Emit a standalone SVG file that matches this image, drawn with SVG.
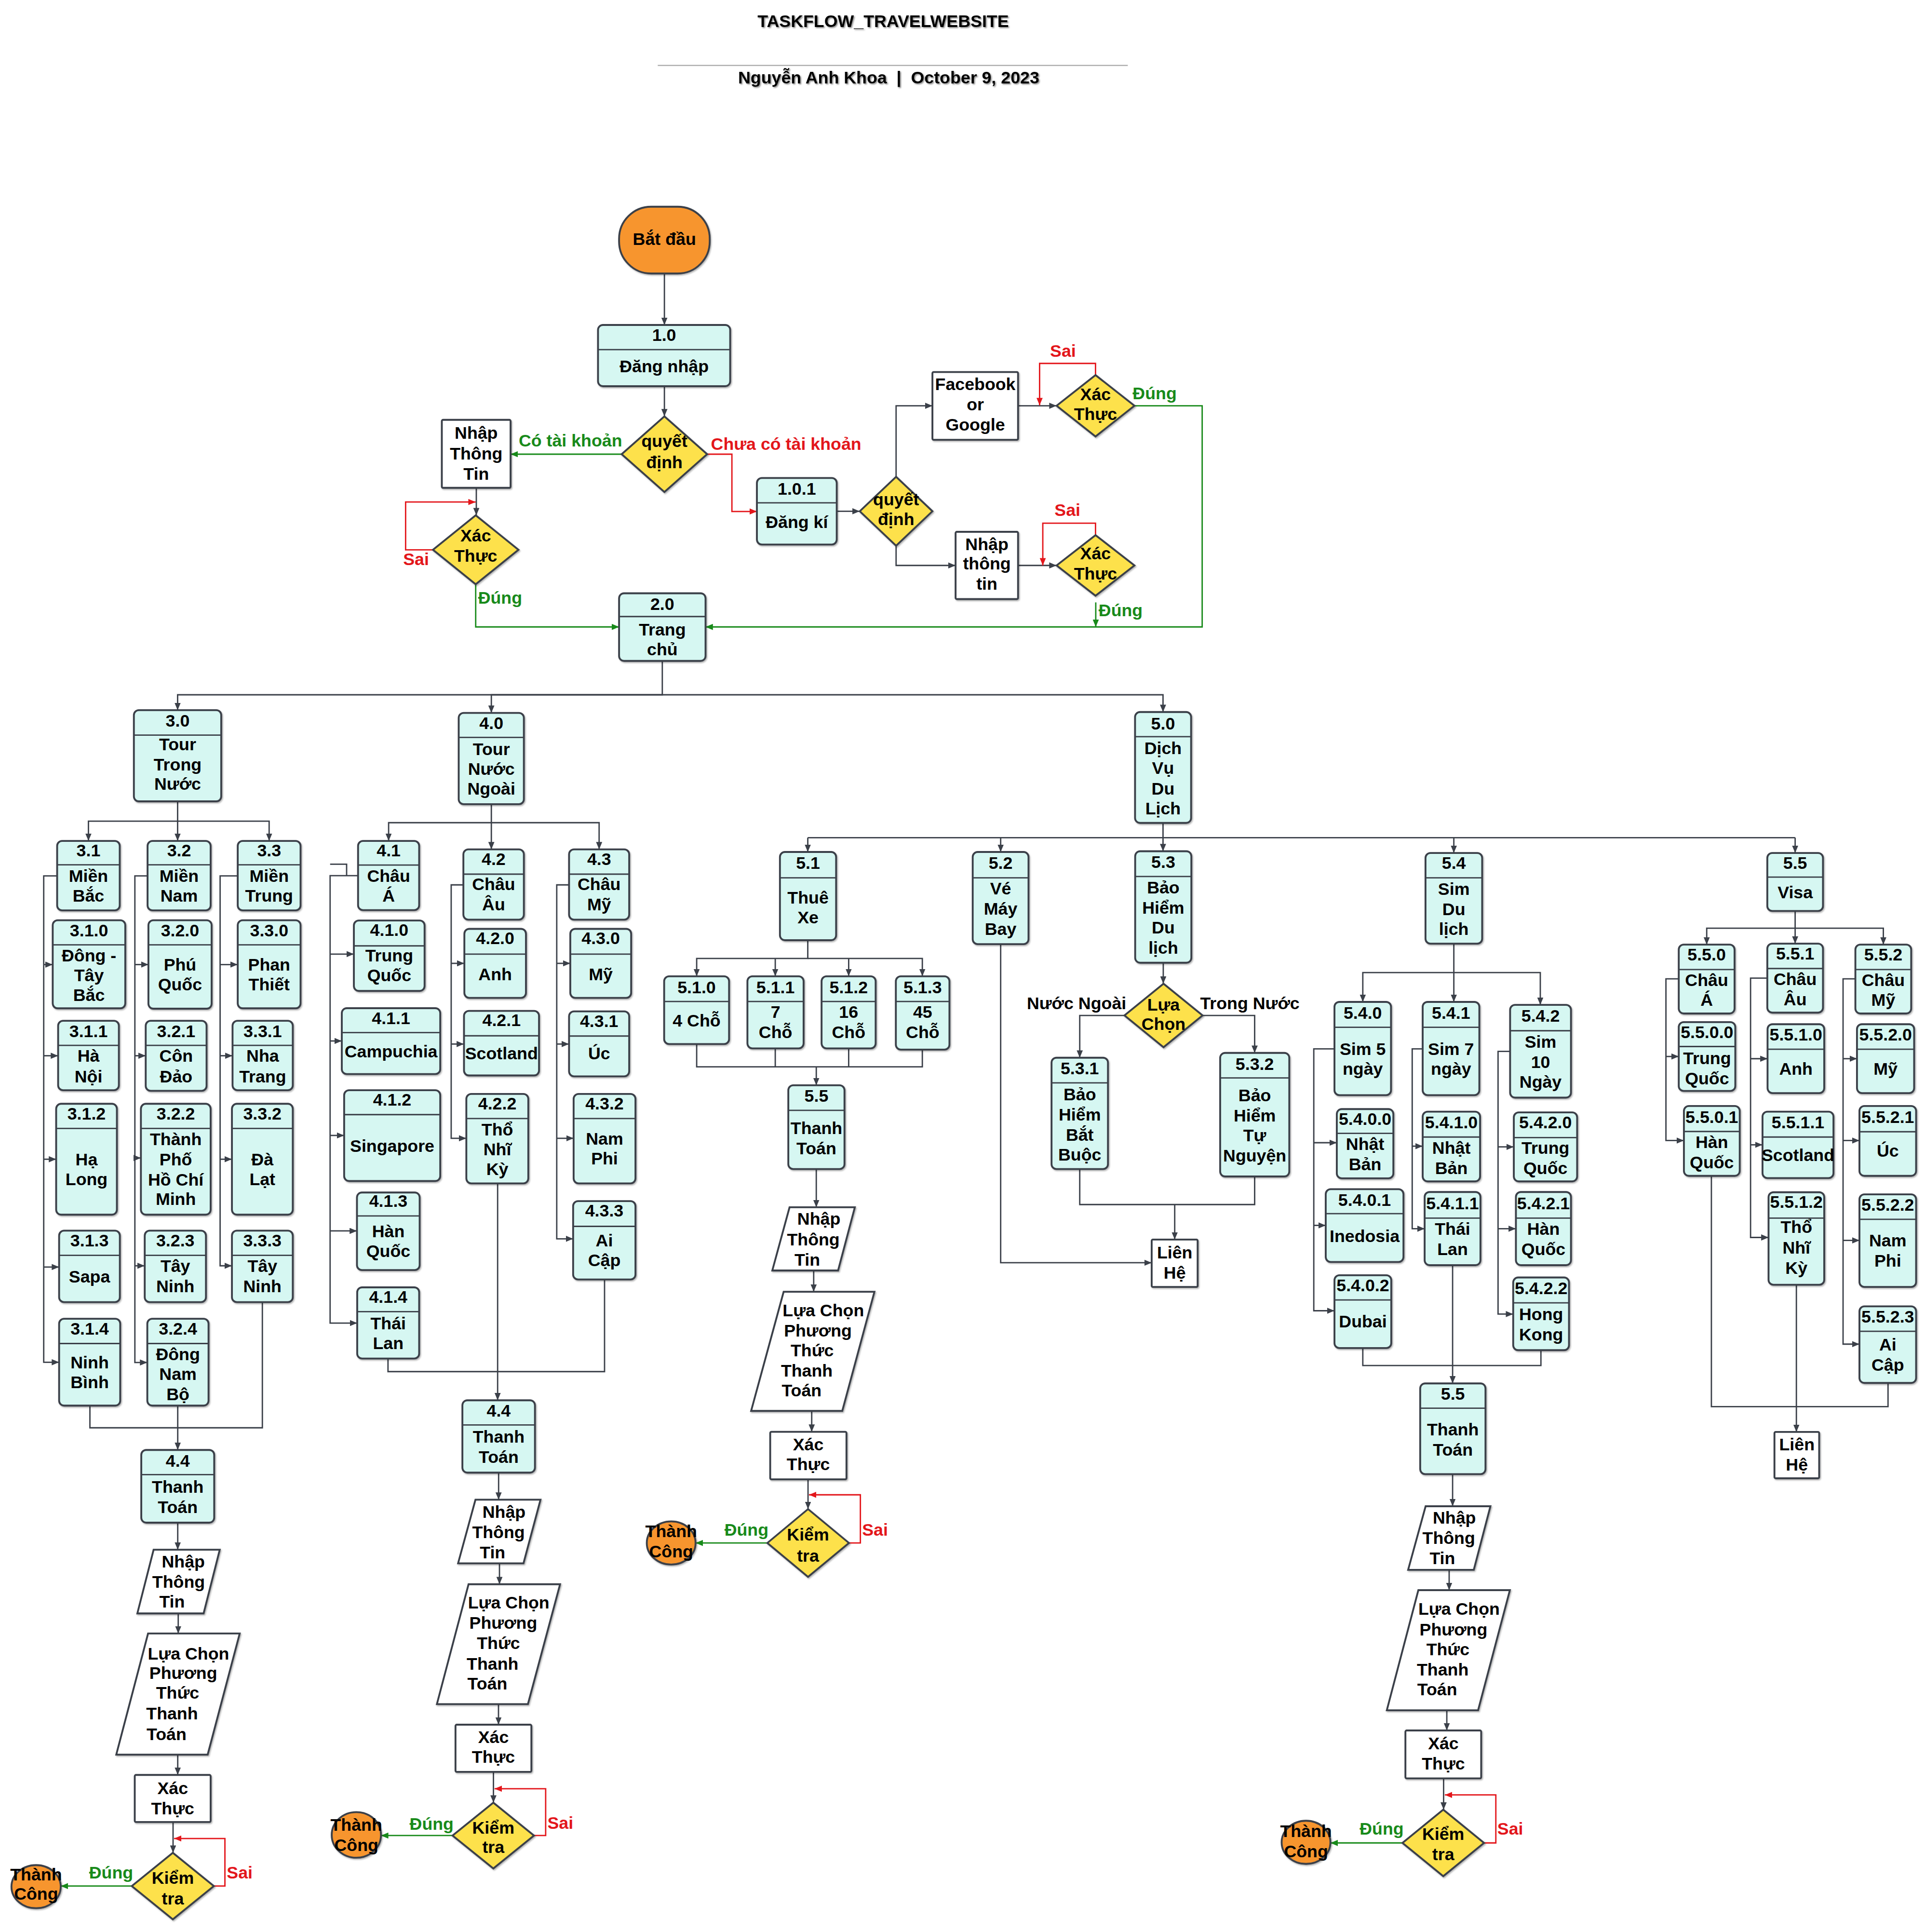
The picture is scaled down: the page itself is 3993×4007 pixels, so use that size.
<svg xmlns="http://www.w3.org/2000/svg" width="3993" height="4007" viewBox="0 0 3993 4007">
<defs>
<style>
text{font-family:"Liberation Sans",Arial,sans-serif;font-weight:bold;font-size:14px;fill:#000;text-anchor:middle}
.p{fill:#d6f7f2;stroke:#3b4049;stroke-width:1.5;filter:url(#sh)}
.w{fill:#fff;stroke:#3b4049;stroke-width:1.5;filter:url(#sh)}
.d{fill:#fde14b;stroke:#3b4049;stroke-width:1.5;filter:url(#sh)}
.o{fill:#f7952f;stroke:#3b4049;stroke-width:1.5;filter:url(#sh)}
.dv{fill:none;stroke:#3b4049;stroke-width:1.1}
.c{fill:none;stroke:#3b4049;stroke-width:1.1}
.ca{fill:none;stroke:#3b4049;stroke-width:1.1;marker-end:url(#a)}
.cr{fill:none;stroke:#e3161b;stroke-width:1.1;marker-end:url(#ar)}
.cg{fill:none;stroke:#188a1a;stroke-width:1.1;marker-end:url(#ag)}
.tr{fill:#e3161b}
.tg{fill:#188a1a}
.tt{filter:url(#ts)}
</style>
<filter id="sh" x="-20%" y="-20%" width="140%" height="140%"><feDropShadow dx="0.7" dy="0.9" stdDeviation="0.6" flood-color="#000" flood-opacity="0.3"/></filter>
<filter id="ts" x="-10%" y="-50%" width="120%" height="200%"><feDropShadow dx="0.8" dy="0.8" stdDeviation="0.7" flood-color="#555" flood-opacity="0.7"/></filter>
<marker id="a" viewBox="0 0 12 10" refX="12" refY="5" markerWidth="6" markerHeight="5" orient="auto" markerUnits="userSpaceOnUse"><path d="M0,0 L12,5 L0,10 z" fill="#3b4049"/></marker>
<marker id="ar" viewBox="0 0 12 10" refX="12" refY="5" markerWidth="6" markerHeight="5" orient="auto" markerUnits="userSpaceOnUse"><path d="M0,0 L12,5 L0,10 z" fill="#e3161b"/></marker>
<marker id="ag" viewBox="0 0 12 10" refX="12" refY="5" markerWidth="6" markerHeight="5" orient="auto" markerUnits="userSpaceOnUse"><path d="M0,0 L12,5 L0,10 z" fill="#188a1a"/></marker>
</defs>
<rect width="3993" height="4007" fill="#fff"/>
<g transform="scale(2.555)">
<g id="header">
<text class="tt" x="717" y="21.8">TASKFLOW_TRAVELWEBSITE</text>
<path d="M534,53.1 H915.6" stroke="#b0b0b0" stroke-width="1"/>
<text class="tt" x="721.5" y="67.9" xml:space="preserve">Nguyễn Anh Khoa  |  October 9, 2023</text>
</g>
<g id="connectors">
<path class="ca" d="M539.4,222 V263.8"/>
<path class="ca" d="M539.4,313.5 V338"/>
<path class="cg" d="M504.7,368.7 H414.5"/>
<path class="cr" d="M574.1,368.7 H594.2 V415.2 H614.5"/>
<path class="ca" d="M386.7,396 V418.3"/>
<path class="cr" d="M351.5,446.3 H329.3 V407.5 H386.2"/>
<path class="cg" d="M386.2,474.3 V508.9 H502.6"/>
<path class="ca" d="M679.3,415 H698"/>
<path class="ca" d="M727.5,387 V329.4 H757"/>
<path class="ca" d="M727.5,443 V459 H775.8"/>
<path class="ca" d="M826.5,329.4 H857.8"/>
<path class="cr" d="M889.4,304.5 V295 H844 V329"/>
<path class="cg" d="M921,329.4 H976 V508.9 H572.8"/>
<path class="ca" d="M826.5,459 H857.8"/>
<path class="cr" d="M889.4,434.4 V424.7 H846.6 V459"/>
<path class="cg" d="M889.6,489 V508.9"/>
<path class="ca" d="M537.7,536.5 V564 H144.2 V576.5"/>
<path class="ca" d="M537.7,564 H398.9 V578.7"/>
<path class="ca" d="M537.7,564 H944.2 V578"/>
<path class="ca" d="M144.2,650.5 V666.6 H71.8 V682.6"/>
<path class="ca" d="M144.2,666.6 V682.6"/>
<path class="ca" d="M144.2,666.6 H218.5 V682.6"/>
<path class="ca" d="M46.4,711 H35.5 V1105.8 H48"/>
<path class="ca" d="M35.5,783 H42.8"/>
<path class="ca" d="M35.5,857 H47.2"/>
<path class="ca" d="M35.5,941 H45.6"/>
<path class="ca" d="M35.5,1028.5 H48"/>
<path class="ca" d="M119.8,711 H109.5 V1106 H119.6"/>
<path class="ca" d="M109.5,783 H120.5"/>
<path class="ca" d="M109.5,857 H118.3"/>
<path class="ca" d="M109.5,940 H114.4"/>
<path class="ca" d="M109.5,1027.5 H117.5"/>
<path class="ca" d="M193,711 H178.7 V1027.5 H188.3"/>
<path class="ca" d="M178.7,783 H193"/>
<path class="ca" d="M178.7,857 H188.8"/>
<path class="ca" d="M178.7,941 H188.3"/>
<path class="c" d="M73,1141 V1159 H213 V1057"/>
<path class="ca" d="M144.3,1141 V1177"/>
<path class="ca" d="M144.3,1236 V1258"/>
<path class="ca" d="M144.7,1309.7 V1326"/>
<path class="ca" d="M144.3,1424.3 V1440.8"/>
<path class="ca" d="M140.5,1479 V1504"/>
<path class="cr" d="M173.6,1531 H182.6 V1492.4 H141.3"/>
<path class="cg" d="M107,1531 H49.3"/>
<path class="ca" d="M398.9,652.8 V667.8 H315.5 V682.6"/>
<path class="ca" d="M398.9,667.8 V689.5"/>
<path class="ca" d="M398.9,667.8 H486.4 V689.5"/>
<path class="ca" d="M290.7,710.8 H268 V1074 H290"/>
<path class="c" d="M268,701.5 H281.4 V710.8"/>
<path class="ca" d="M268,774.5 H287.3"/>
<path class="ca" d="M268,845 H277.5"/>
<path class="ca" d="M268,921.7 H279.4"/>
<path class="ca" d="M268,999.2 H289.8"/>
<path class="ca" d="M376.2,718.3 H366.3 V924 H378.6"/>
<path class="ca" d="M366.3,782 H377"/>
<path class="ca" d="M366.3,847.5 H376.7"/>
<path class="ca" d="M462,718.3 H452 V1005.6 H465.3"/>
<path class="ca" d="M452,782 H463"/>
<path class="ca" d="M452,847.5 H462"/>
<path class="ca" d="M452,924 H465.7"/>
<path class="c" d="M315,1102.8 V1113.4 H490.8 V1038.6"/>
<path class="ca" d="M404,960.6 V1136.7"/>
<path class="ca" d="M404.8,1195.4 V1217.4"/>
<path class="ca" d="M405.5,1269 V1286"/>
<path class="ca" d="M404.7,1383.3 V1400"/>
<path class="ca" d="M400.6,1438.3 V1463.3"/>
<path class="cr" d="M433.5,1490 H443 V1452 H401.5"/>
<path class="cg" d="M367.4,1490 H309.3"/>
<path class="c" d="M944.2,668 V680 M655.8,680 H1457.4"/>
<path class="ca" d="M655.8,680 V691.6"/>
<path class="ca" d="M812.4,680 V691.6"/>
<path class="ca" d="M944.2,680 V691"/>
<path class="ca" d="M1180.3,680 V692.4"/>
<path class="ca" d="M1457.4,680 V692.4"/>
<path class="ca" d="M655.8,763.2 V778 H565.6 V792.5"/>
<path class="ca" d="M629.4,778 V792.5"/>
<path class="ca" d="M689,778 V792.5"/>
<path class="ca" d="M655.8,778 H748.8 V792.5"/>
<path class="c" d="M565.6,847.5 V866 H748.8 V852 M629.4,851 V866 M689,851 V866"/>
<path class="ca" d="M662.7,866 V881"/>
<path class="ca" d="M662.7,949 V980"/>
<path class="ca" d="M660.6,1031.3 V1048.6"/>
<path class="ca" d="M659,1145.3 V1162.3"/>
<path class="ca" d="M656,1200.8 V1225"/>
<path class="cr" d="M689.2,1252.5 H698.5 V1213.4 H656.8"/>
<path class="cg" d="M623,1252.5 H564.7"/>
<path class="ca" d="M812.4,766.4 V1025 H935"/>
<path class="ca" d="M944.4,781.5 V798.5"/>
<path class="ca" d="M912.9,824.3 H876.6 V858.6"/>
<path class="ca" d="M976.3,824.3 H1018.6 V854.7"/>
<path class="c" d="M876.6,949 V977.8 H1018.6 V955"/>
<path class="ca" d="M953.7,977.8 V1006.2"/>
<path class="ca" d="M1180.3,766 V789.5 H1106.4 V813.3"/>
<path class="ca" d="M1180.3,789.5 V813.3"/>
<path class="ca" d="M1180.3,789.5 H1250.5 V815.7"/>
<path class="ca" d="M1083.4,851.4 H1066.6 V1064 H1083.4"/>
<path class="ca" d="M1066.6,927.6 H1085.3"/>
<path class="ca" d="M1066.6,994.7 H1076.3"/>
<path class="ca" d="M1155,851.4 H1146.5 V997.4 H1156.6"/>
<path class="ca" d="M1146.5,930.4 H1155"/>
<path class="ca" d="M1226,853.5 H1216.2 V1066.7 H1228.5"/>
<path class="ca" d="M1216.2,931 H1229"/>
<path class="ca" d="M1216.2,997.4 H1230.7"/>
<path class="c" d="M1106.4,1094.3 V1108.5 H1251 V1096"/>
<path class="ca" d="M1179.3,1027 V1123"/>
<path class="ca" d="M1179.3,1196.6 V1222.7"/>
<path class="ca" d="M1176.5,1274.3 V1290.8"/>
<path class="ca" d="M1174.6,1388.3 V1404.7"/>
<path class="ca" d="M1172,1443.6 V1469"/>
<path class="cr" d="M1204.8,1496 H1214.4 V1457 H1173"/>
<path class="cg" d="M1138.6,1496 H1080.1"/>
<path class="ca" d="M1457.4,739.5 V753.5 H1385.6 V766.8"/>
<path class="ca" d="M1457.4,753.5 V766"/>
<path class="ca" d="M1457.4,753.5 H1529 V766.8"/>
<path class="ca" d="M1362.9,794.6 H1352.5 V925.8 H1367.1"/>
<path class="ca" d="M1352.5,857.6 H1362.9"/>
<path class="ca" d="M1434.8,794 H1421.2 V1004.5 H1435.8"/>
<path class="ca" d="M1421.2,859.4 H1435"/>
<path class="ca" d="M1421.2,929.3 H1430.9"/>
<path class="ca" d="M1506.3,794.6 H1496.3 V1091.1 H1509.6"/>
<path class="ca" d="M1496.3,859.4 H1507.6"/>
<path class="ca" d="M1496.3,925.8 H1509.6"/>
<path class="ca" d="M1496.3,1006.9 H1509.6"/>
<path class="c" d="M1389.4,954.5 V1141.8 H1532.8 V1122.6"/>
<path class="ca" d="M1458.4,1042.9 V1162.4"/>
</g>
<g id="labels">
<text class="tg" x="463.1" y="362.5">Có tài khoản</text>
<text class="tr" x="638.2" y="365">Chưa có tài khoản</text>
<text class="tr" x="863" y="289.5">Sai</text>
<text class="tg" x="937.4" y="324">Đúng</text>
<text class="tr" x="866.6" y="418.7">Sai</text>
<text class="tg" x="909.8" y="500">Đúng</text>
<text class="tr" x="337.8" y="458.6">Sai</text>
<text class="tg" x="406" y="490">Đúng</text>
<text x="874" y="819">Nước Ngoài</text>
<text x="1014.7" y="819">Trong Nước</text>
<text class="tg" x="90.2" y="1525">Đúng</text>
<text class="tr" x="194.6" y="1525">Sai</text>
<text class="tg" x="350.4" y="1485.4">Đúng</text>
<text class="tr" x="454.9" y="1484.4">Sai</text>
<text class="tg" x="606" y="1246.4">Đúng</text>
<text class="tr" x="710.4" y="1246.4">Sai</text>
<text class="tg" x="1121.7" y="1489.2">Đúng</text>
<text class="tr" x="1226.1" y="1489.2">Sai</text>
</g>
<g id="start"><rect class="o" x="502.6" y="167.8" width="73.6" height="54.2" rx="26" ry="26"/><text x="539.4" y="199">Bắt đầu</text></g>
<g id="n1_0"><rect class="p" x="485.5" y="263.8" width="107.3" height="49.7" rx="4"/><path class="dv" d="M485.5,283.8 H592.8"/><text x="539.2" y="276.9">1.0</text><text x="539.2" y="302">Đăng nhập</text></g>
<g id="dec1"><polygon class="d" points="504.7,368.7 539.4,338 574.1,368.7 539.4,399.4"/><text x="539.4" y="363">quyết<tspan x="539.4" y="380">định</tspan></text></g>
<g id="login_input"><rect class="w" x="358.7" y="340.8" width="55.8" height="55.2" rx="1"/><text x="386.6" y="356">Nhập<tspan x="386.6" y="373">Thông</tspan><tspan x="386.6" y="389.5">Tin</tspan></text></g>
<g id="login_check"><polygon class="d" points="351.5,446.3 386.2,418.3 420.9,446.3 386.2,474.3"/><text x="386.2" y="439.4">Xác<tspan x="386.2" y="455.8">Thực</tspan></text></g>
<g id="n1_0_1"><rect class="p" x="614.5" y="388" width="64.8" height="54" rx="4"/><path class="dv" d="M614.5,408.2 H679.3"/><text x="646.9" y="401.7">1.0.1</text><text x="646.9" y="428.6">Đăng kí</text></g>
<g id="dec2"><polygon class="d" points="698,415 727.5,387 757,415 727.5,443"/><text x="727.5" y="410">quyết<tspan x="727.5" y="426.3">định</tspan></text></g>
<g id="fb"><rect class="w" x="757" y="302" width="69.5" height="55" rx="1"/><text x="791.8" y="316.5">Facebook<tspan x="791.8" y="333">or</tspan><tspan x="791.8" y="349.4">Google</tspan></text></g>
<g id="fb_check"><polygon class="d" points="857.8,329.4 889.4,304.5 921,329.4 889.4,354.3"/><text x="889.4" y="324.8">Xác<tspan x="889.4" y="341">Thực</tspan></text></g>
<g id="reg_input"><rect class="w" x="775.8" y="431.7" width="50.7" height="54.6" rx="1"/><text x="801.2" y="446.4">Nhập<tspan x="801.2" y="462.4">thông</tspan><tspan x="801.2" y="478.6">tin</tspan></text></g>
<g id="reg_check"><polygon class="d" points="857.8,459 889.4,434.4 921,459 889.4,483.6"/><text x="889.4" y="454">Xác<tspan x="889.4" y="470.3">Thực</tspan></text></g>
<g id="n2_0"><rect class="p" x="502.6" y="481.6" width="70.2" height="54.9" rx="4"/><path class="dv" d="M502.6,500.5 H572.8"/><text x="537.7" y="495.3">2.0</text><text x="537.7" y="516">Trang<tspan x="537.7" y="532">chủ</tspan></text></g>
<g id="n3_0"><rect class="p" x="108.7" y="576.5" width="70.9" height="74" rx="4"/><path class="dv" d="M108.7,596.7 H179.6"/><text x="144.2" y="590">3.0</text><text x="144.2" y="609">Tour<tspan x="144.2" y="625.6">Trong</tspan><tspan x="144.2" y="641">Nước</tspan></text></g>
<g id="n4_0"><rect class="p" x="372.4" y="578.7" width="52.9" height="74.1" rx="4"/><path class="dv" d="M372.4,598.6 H425.3"/><text x="398.9" y="591.6">4.0</text><text x="398.9" y="613">Tour<tspan x="398.9" y="629">Nước</tspan><tspan x="398.9" y="645">Ngoài</tspan></text></g>
<g id="n5_0"><rect class="p" x="921.5" y="578" width="45.5" height="90" rx="4"/><path class="dv" d="M921.5,598 H967"/><text x="944.2" y="592">5.0</text><text x="944.2" y="612">Dịch<tspan x="944.2" y="628">Vụ</tspan><tspan x="944.2" y="645">Du</tspan><tspan x="944.2" y="661">Lịch</tspan></text></g>
<g id="n3_1"><rect class="p" x="46.4" y="682.6" width="50.8" height="56.4" rx="4"/><path class="dv" d="M46.4,702 H97.2"/><text x="71.8" y="695">3.1</text><text x="71.8" y="716">Miền<tspan x="71.8" y="732">Bắc</tspan></text></g>
<g id="n3_2"><rect class="p" x="119.8" y="682.6" width="51.2" height="56.4" rx="4"/><path class="dv" d="M119.8,702 H171"/><text x="145.4" y="695">3.2</text><text x="145.4" y="716">Miền<tspan x="145.4" y="732">Nam</tspan></text></g>
<g id="n3_3"><rect class="p" x="193" y="682.6" width="51" height="56.4" rx="4"/><path class="dv" d="M193,702 H244"/><text x="218.5" y="695">3.3</text><text x="218.5" y="716">Miền<tspan x="218.5" y="732">Trung</tspan></text></g>
<g id="n3_1_0"><rect class="p" x="42.8" y="747" width="58.9" height="71.5" rx="4"/><path class="dv" d="M42.8,767 H101.7"/><text x="72.25" y="760">3.1.0</text><text x="72.25" y="780.6">Đông -<tspan x="72.25" y="796.6">Tây</tspan><tspan x="72.25" y="812.6">Bắc</tspan></text></g>
<g id="n3_2_0"><rect class="p" x="120.5" y="747" width="51.3" height="71.8" rx="4"/><path class="dv" d="M120.5,767 H171.8"/><text x="146.15" y="760">3.2.0</text><text x="146.15" y="788">Phú<tspan x="146.15" y="804">Quốc</tspan></text></g>
<g id="n3_3_0"><rect class="p" x="193" y="747" width="51" height="71.5" rx="4"/><path class="dv" d="M193,767 H244"/><text x="218.5" y="760">3.3.0</text><text x="218.5" y="788">Phan<tspan x="218.5" y="804">Thiết</tspan></text></g>
<g id="n3_1_1"><rect class="p" x="47.2" y="828.6" width="49.3" height="56.4" rx="4"/><path class="dv" d="M47.2,848.6 H96.5"/><text x="71.85" y="841.8">3.1.1</text><text x="71.85" y="862">Hà<tspan x="71.85" y="878.5">Nội</tspan></text></g>
<g id="n3_2_1"><rect class="p" x="118.3" y="828.6" width="49.4" height="56.9" rx="4"/><path class="dv" d="M118.3,848.6 H167.7"/><text x="143" y="841.8">3.2.1</text><text x="143" y="862">Côn<tspan x="143" y="878.5">Đảo</tspan></text></g>
<g id="n3_3_1"><rect class="p" x="188.8" y="828.6" width="48.9" height="56.4" rx="4"/><path class="dv" d="M188.8,848.6 H237.7"/><text x="213.25" y="841.8">3.3.1</text><text x="213.25" y="862">Nha<tspan x="213.25" y="878.5">Trang</tspan></text></g>
<g id="n3_1_2"><rect class="p" x="45.6" y="896" width="49.3" height="90" rx="4"/><path class="dv" d="M45.6,916 H94.9"/><text x="70.25" y="909">3.1.2</text><text x="70.25" y="946">Hạ<tspan x="70.25" y="962">Long</tspan></text></g>
<g id="n3_2_2"><rect class="p" x="114.4" y="896" width="56.6" height="90" rx="4"/><path class="dv" d="M114.4,916 H171"/><text x="142.7" y="909">3.2.2</text><text x="142.7" y="929.7">Thành<tspan x="142.7" y="946">Phố</tspan><tspan x="142.7" y="962.6">Hồ Chí</tspan><tspan x="142.7" y="978">Minh</tspan></text></g>
<g id="n3_3_2"><rect class="p" x="188.3" y="896" width="49.4" height="90" rx="4"/><path class="dv" d="M188.3,916 H237.7"/><text x="213" y="909">3.3.2</text><text x="213" y="946">Đà<tspan x="213" y="962">Lạt</tspan></text></g>
<g id="n3_1_3"><rect class="p" x="48" y="999" width="49.3" height="58" rx="4"/><path class="dv" d="M48,1019 H97.3"/><text x="72.65" y="1011.7">3.1.3</text><text x="72.65" y="1041">Sapa</text></g>
<g id="n3_2_3"><rect class="p" x="117.5" y="999" width="49.7" height="58" rx="4"/><path class="dv" d="M117.5,1019 H167.2"/><text x="142.35" y="1011.7">3.2.3</text><text x="142.35" y="1032.6">Tây<tspan x="142.35" y="1049">Ninh</tspan></text></g>
<g id="n3_3_3"><rect class="p" x="188.3" y="999" width="49.4" height="58" rx="4"/><path class="dv" d="M188.3,1019 H237.7"/><text x="213" y="1011.7">3.3.3</text><text x="213" y="1032.6">Tây<tspan x="213" y="1049">Ninh</tspan></text></g>
<g id="n3_1_4"><rect class="p" x="48" y="1070.5" width="49.6" height="70.5" rx="4"/><path class="dv" d="M48,1090.6 H97.6"/><text x="72.8" y="1083.4">3.1.4</text><text x="72.8" y="1110.8">Ninh<tspan x="72.8" y="1126.8">Bình</tspan></text></g>
<g id="n3_2_4"><rect class="p" x="119.6" y="1070.5" width="49.7" height="70.5" rx="4"/><path class="dv" d="M119.6,1090.6 H169.3"/><text x="144.45" y="1083.4">3.2.4</text><text x="144.45" y="1104">Đông<tspan x="144.45" y="1120">Nam</tspan><tspan x="144.45" y="1136.7">Bộ</tspan></text></g>
<g id="pay3"><rect class="p" x="114.7" y="1177" width="59.2" height="59" rx="4"/><path class="dv" d="M114.7,1197 H173.9"/><text x="144.3" y="1190.8">4.4</text><text x="144.3" y="1211.7">Thanh<tspan x="144.3" y="1228.3">Toán</tspan></text></g>
<g id="pay3_input"><polygon class="w" points="124.7,1258 178.4,1258 165.3,1309.7 111.5,1309.7"/><text x="148.8" y="1272.6">Nhập</text><text x="145" y="1288.9">Thông</text><text x="139.7" y="1304.8">Tin</text></g>
<g id="pay3_method"><polygon class="w" points="120.2,1326 194.6,1326 168.6,1424.3 94.4,1424.3"/><text x="153" y="1347">Lựa Chọn</text><text x="148.8" y="1362.8">Phương</text><text x="144.2" y="1379">Thức</text><text x="139.7" y="1395.7">Thanh</text><text x="135.2" y="1412.4">Toán</text></g>
<g id="pay3_auth"><rect class="w" x="109.4" y="1440.8" width="61.6" height="38.2" rx="1"/><text x="140.2" y="1456.3">Xác<tspan x="140.2" y="1472.7">Thực</tspan></text></g>
<g id="pay3_check"><polygon class="d" points="107,1531 140.3,1504 173.6,1531 140.3,1558"/><text x="140.3" y="1529">Kiểm<tspan x="140.3" y="1546">tra</tspan></text></g>
<g id="pay3_ok"><ellipse class="o" cx="29.3" cy="1531.5" rx="20" ry="17.5"/><text x="29.3" y="1526.3">Thành<tspan x="29.3" y="1542">Công</tspan></text></g>
<g id="n4_1"><rect class="p" x="290.7" y="682.6" width="49.6" height="56.2" rx="4"/><path class="dv" d="M290.7,702.2 H340.3"/><text x="315.5" y="695">4.1</text><text x="315.5" y="715.8">Châu<tspan x="315.5" y="731.9">Á</tspan></text></g>
<g id="n4_2"><rect class="p" x="376.2" y="689.5" width="49.1" height="57" rx="4"/><path class="dv" d="M376.2,709.6 H425.3"/><text x="400.75" y="702">4.2</text><text x="400.75" y="722.5">Châu<tspan x="400.75" y="739">Âu</tspan></text></g>
<g id="n4_3"><rect class="p" x="462" y="689.5" width="48.8" height="57" rx="4"/><path class="dv" d="M462,709.6 H510.8"/><text x="486.4" y="702">4.3</text><text x="486.4" y="722.5">Châu<tspan x="486.4" y="739">Mỹ</tspan></text></g>
<g id="n4_1_0"><rect class="p" x="287.3" y="747.2" width="57.4" height="57.2" rx="4"/><path class="dv" d="M287.3,767.8 H344.7"/><text x="316" y="759.7">4.1.0</text><text x="316" y="780.3">Trung<tspan x="316" y="796.4">Quốc</tspan></text></g>
<g id="n4_1_1"><rect class="p" x="277.5" y="818.4" width="79.9" height="53.5" rx="4"/><path class="dv" d="M277.5,838.2 H357.4"/><text x="317.45" y="831.5">4.1.1</text><text x="317.45" y="858.2">Campuchia</text></g>
<g id="n4_1_2"><rect class="p" x="279.4" y="885" width="78" height="73.7" rx="4"/><path class="dv" d="M279.4,904.8 H357.4"/><text x="318.4" y="897.5">4.1.2</text><text x="318.4" y="935">Singapore</text></g>
<g id="n4_1_3"><rect class="p" x="289.8" y="968" width="50.9" height="63" rx="4"/><path class="dv" d="M289.8,987 H340.7"/><text x="315.25" y="979.8">4.1.3</text><text x="315.25" y="1004.2">Hàn<tspan x="315.25" y="1020.3">Quốc</tspan></text></g>
<g id="n4_1_4"><rect class="p" x="290" y="1045" width="50.3" height="57.8" rx="4"/><path class="dv" d="M290,1064.7 H340.3"/><text x="315.15" y="1057.7">4.1.4</text><text x="315.15" y="1079">Thái<tspan x="315.15" y="1095">Lan</tspan></text></g>
<g id="n4_2_0"><rect class="p" x="377" y="754" width="50" height="56" rx="4"/><path class="dv" d="M377,774.5 H427"/><text x="402" y="766.5">4.2.0</text><text x="402" y="795.6">Anh</text></g>
<g id="n4_2_1"><rect class="p" x="376.7" y="820.6" width="60.9" height="52.4" rx="4"/><path class="dv" d="M376.7,840.8 H437.6"/><text x="407.15" y="833">4.2.1</text><text x="407.15" y="860">Scotland</text></g>
<g id="n4_2_2"><rect class="p" x="378.6" y="888" width="50.3" height="72.6" rx="4"/><path class="dv" d="M378.6,908 H428.9"/><text x="403.75" y="900.5">4.2.2</text><text x="403.75" y="921.8">Thổ<tspan x="403.75" y="937.8">Nhĩ</tspan><tspan x="403.75" y="953.7">Kỳ</tspan></text></g>
<g id="n4_3_0"><rect class="p" x="463" y="754" width="49.4" height="56" rx="4"/><path class="dv" d="M463,774.5 H512.4"/><text x="487.7" y="766.5">4.3.0</text><text x="487.7" y="795.6">Mỹ</text></g>
<g id="n4_3_1"><rect class="p" x="462" y="821" width="48.8" height="52.7" rx="4"/><path class="dv" d="M462,841 H510.8"/><text x="486.4" y="833.8">4.3.1</text><text x="486.4" y="860">Úc</text></g>
<g id="n4_3_2"><rect class="p" x="465.7" y="888" width="50.2" height="72.6" rx="4"/><path class="dv" d="M465.7,908 H515.9"/><text x="490.8" y="900.5">4.3.2</text><text x="490.8" y="929">Nam<tspan x="490.8" y="945.4">Phi</tspan></text></g>
<g id="n4_3_3"><rect class="p" x="465.3" y="975" width="50.6" height="63.6" rx="4"/><path class="dv" d="M465.3,995.5 H515.9"/><text x="490.6" y="987.4">4.3.3</text><text x="490.6" y="1011.7">Ai<tspan x="490.6" y="1027.8">Cập</tspan></text></g>
<g id="n4_4"><rect class="p" x="375.4" y="1136.7" width="58.9" height="58.7" rx="4"/><path class="dv" d="M375.4,1156.7 H434.3"/><text x="404.85" y="1150">4.4</text><text x="404.85" y="1171.2">Thanh<tspan x="404.85" y="1187.5">Toán</tspan></text></g>
<g id="pay4_input"><polygon class="w" points="386,1217.4 438.8,1217.4 425,1269 371.9,1269"/><text x="409.2" y="1232">Nhập</text><text x="404.7" y="1248.4">Thông</text><text x="399.9" y="1264.8">Tin</text></g>
<g id="pay4_method"><polygon class="w" points="380.4,1286 454.7,1286 428.6,1383.3 354.7,1383.3"/><text x="413" y="1305.8">Lựa Chọn</text><text x="408.6" y="1322">Phương</text><text x="404.7" y="1338.5">Thức</text><text x="399.9" y="1355.2">Thanh</text><text x="395.7" y="1371.4">Toán</text></g>
<g id="pay4_auth"><rect class="w" x="369.8" y="1400" width="61.6" height="38.3" rx="1"/><text x="400.6" y="1415">Xác<tspan x="400.6" y="1430.8">Thực</tspan></text></g>
<g id="pay4_check"><polygon class="d" points="367.4,1490 400.5,1463.3 433.5,1490 400.5,1516.7"/><text x="400.5" y="1488.6">Kiểm<tspan x="400.5" y="1504">tra</tspan></text></g>
<g id="pay4_ok"><ellipse class="o" cx="289.3" cy="1489.5" rx="20" ry="18.5"/><text x="289.3" y="1486">Thành<tspan x="289.3" y="1502.4">Công</tspan></text></g>
<g id="n5_1"><rect class="p" x="633.2" y="691.6" width="45.6" height="71.6" rx="4"/><path class="dv" d="M633.2,712.6 H678.8"/><text x="656" y="705.2">5.1</text><text x="656" y="733.3">Thuê<tspan x="656" y="749.6">Xe</tspan></text></g>
<g id="n5_2"><rect class="p" x="789.7" y="691.6" width="45.3" height="74.8" rx="4"/><path class="dv" d="M789.7,712.6 H835"/><text x="812.35" y="705.2">5.2</text><text x="812.35" y="726">Vé<tspan x="812.35" y="742.4">Máy</tspan><tspan x="812.35" y="758.8">Bay</tspan></text></g>
<g id="n5_3"><rect class="p" x="921.6" y="691" width="45.6" height="90.5" rx="4"/><path class="dv" d="M921.6,711.5 H967.2"/><text x="944.4" y="704.5">5.3</text><text x="944.4" y="725.4">Bảo<tspan x="944.4" y="741.7">Hiểm</tspan><tspan x="944.4" y="757.9">Du</tspan><tspan x="944.4" y="774">lịch</tspan></text></g>
<g id="n5_1_0"><rect class="p" x="539.2" y="792.5" width="52.7" height="55" rx="4"/><path class="dv" d="M539.2,813 H591.9"/><text x="565.55" y="806.3">5.1.0</text><text x="565.55" y="833.4">4 Chỗ</text></g>
<g id="n5_1_1"><rect class="p" x="606.8" y="792.5" width="45.6" height="58.5" rx="4"/><path class="dv" d="M606.8,813 H652.4"/><text x="629.6" y="806.3">5.1.1</text><text x="629.6" y="826.4">7<tspan x="629.6" y="842.6">Chỗ</tspan></text></g>
<g id="n5_1_2"><rect class="p" x="667" y="792.5" width="43.9" height="58.5" rx="4"/><path class="dv" d="M667,813 H710.9"/><text x="688.95" y="806.3">5.1.2</text><text x="688.95" y="826.4">16<tspan x="688.95" y="842.6">Chỗ</tspan></text></g>
<g id="n5_1_3"><rect class="p" x="727.3" y="792.5" width="43.5" height="59.5" rx="4"/><path class="dv" d="M727.3,813 H770.8"/><text x="749.05" y="806.3">5.1.3</text><text x="749.05" y="826.4">45<tspan x="749.05" y="842.6">Chỗ</tspan></text></g>
<g id="n5_5a"><rect class="p" x="640" y="881" width="45.6" height="68" rx="4"/><path class="dv" d="M640,901.3 H685.6"/><text x="662.8" y="894.5">5.5</text><text x="662.8" y="920.7">Thanh<tspan x="662.8" y="937">Toán</tspan></text></g>
<g id="pay5_input"><polygon class="w" points="641,980 694,980 680.4,1031.3 627,1031.3"/><text x="664.8" y="994.3">Nhập</text><text x="660.3" y="1010.8">Thông</text><text x="655.4" y="1027.3">Tin</text></g>
<g id="pay5_method"><polygon class="w" points="636.2,1048.6 709.9,1048.6 683.8,1145.3 609.8,1145.3"/><text x="668.4" y="1068.5">Lựa Chọn</text><text x="664" y="1085">Phương</text><text x="659.4" y="1100.9">Thức</text><text x="655" y="1117.4">Thanh</text><text x="650.8" y="1133.3">Toán</text></g>
<g id="pay5_auth"><rect class="w" x="625.3" y="1162.3" width="61.9" height="38.5" rx="1"/><text x="656.2" y="1177.2">Xác<tspan x="656.2" y="1193.4">Thực</tspan></text></g>
<g id="pay5_check"><polygon class="d" points="623,1252.5 656,1225 689.2,1252.5 656,1280"/><text x="656" y="1250.5">Kiểm<tspan x="656" y="1267.6">tra</tspan></text></g>
<g id="pay5_ok"><ellipse class="o" cx="544.9" cy="1252.5" rx="19.8" ry="17.5"/><text x="544.9" y="1247.7">Thành<tspan x="544.9" y="1264.1">Công</tspan></text></g>
<g id="dec53"><polygon class="d" points="912.9,824.3 944.6,798.5 976.3,824.3 944.6,850.1"/><text x="944.6" y="820.3">Lựa<tspan x="944.6" y="836">Chọn</tspan></text></g>
<g id="n5_3_1"><rect class="p" x="853.7" y="858.6" width="45.8" height="90.4" rx="4"/><path class="dv" d="M853.7,879 H899.5"/><text x="876.6" y="872.2">5.3.1</text><text x="876.6" y="893.2">Bảo<tspan x="876.6" y="909.5">Hiểm</tspan><tspan x="876.6" y="926">Bắt</tspan><tspan x="876.6" y="942">Buộc</tspan></text></g>
<g id="n5_3_2"><rect class="p" x="990.6" y="854.7" width="56.1" height="100.3" rx="4"/><path class="dv" d="M990.6,875 H1046.7"/><text x="1018.65" y="868.3">5.3.2</text><text x="1018.65" y="893.8">Bảo<tspan x="1018.65" y="910.3">Hiểm</tspan><tspan x="1018.65" y="926.5">Tự</tspan><tspan x="1018.65" y="943">Nguyện</tspan></text></g>
<g id="contact1"><rect class="w" x="935" y="1006.2" width="37.3" height="38.5" rx="1"/><text x="953.7" y="1021.6">Liên<tspan x="953.7" y="1038">Hệ</tspan></text></g>
<g id="n5_4"><rect class="p" x="1157.3" y="692.4" width="46" height="73.6" rx="4"/><path class="dv" d="M1157.3,712.6 H1203.3"/><text x="1180.3" y="705.2">5.4</text><text x="1180.3" y="726.4">Sim<tspan x="1180.3" y="742.8">Du</tspan><tspan x="1180.3" y="758.8">lịch</tspan></text></g>
<g id="n5_4_0"><rect class="p" x="1083.4" y="813.3" width="45.9" height="75.7" rx="4"/><path class="dv" d="M1083.4,833.9 H1129.3"/><text x="1106.35" y="827">5.4.0</text><text x="1106.35" y="856.4">Sim 5<tspan x="1106.35" y="872.4">ngày</tspan></text></g>
<g id="n5_4_1"><rect class="p" x="1155" y="813.3" width="46" height="75.7" rx="4"/><path class="dv" d="M1155,833.9 H1201"/><text x="1178" y="827">5.4.1</text><text x="1178" y="856.4">Sim 7<tspan x="1178" y="872.4">ngày</tspan></text></g>
<g id="n5_4_2"><rect class="p" x="1226" y="815.7" width="49.4" height="75.3" rx="4"/><path class="dv" d="M1226,836.7 H1275.4"/><text x="1250.7" y="829.4">5.4.2</text><text x="1250.7" y="850.4">Sim<tspan x="1250.7" y="866.9">10</tspan><tspan x="1250.7" y="883">Ngày</tspan></text></g>
<g id="n5_4_0_0"><rect class="p" x="1085.3" y="900.3" width="45.9" height="56.2" rx="4"/><path class="dv" d="M1085.3,920 H1131.2"/><text x="1108.25" y="913.3">5.4.0.0</text><text x="1108.25" y="933.5">Nhật<tspan x="1108.25" y="950">Bản</tspan></text></g>
<g id="n5_4_0_1"><rect class="p" x="1076.3" y="965.3" width="63.1" height="59.1" rx="4"/><path class="dv" d="M1076.3,985.2 H1139.4"/><text x="1107.85" y="978.7">5.4.0.1</text><text x="1107.85" y="1008.4">Inedosia</text></g>
<g id="n5_4_0_2"><rect class="p" x="1083.4" y="1035.2" width="46.1" height="59.1" rx="4"/><path class="dv" d="M1083.4,1055.2 H1129.5"/><text x="1106.45" y="1048">5.4.0.2</text><text x="1106.45" y="1077.6">Dubai</text></g>
<g id="n5_4_1_0"><rect class="p" x="1155" y="902.4" width="46.6" height="56.6" rx="4"/><path class="dv" d="M1155,923 H1201.6"/><text x="1178.3" y="915.8">5.4.1.0</text><text x="1178.3" y="936.7">Nhật<tspan x="1178.3" y="952.9">Bản</tspan></text></g>
<g id="n5_4_1_1"><rect class="p" x="1156.6" y="967.6" width="45.3" height="59.4" rx="4"/><path class="dv" d="M1156.6,988.8 H1201.9"/><text x="1179.25" y="981.5">5.4.1.1</text><text x="1179.25" y="1002.4">Thái<tspan x="1179.25" y="1018.9">Lan</tspan></text></g>
<g id="n5_4_2_0"><rect class="p" x="1229" y="903" width="51.4" height="56" rx="4"/><path class="dv" d="M1229,923.4 H1280.4"/><text x="1254.7" y="916">5.4.2.0</text><text x="1254.7" y="936.7">Trung<tspan x="1254.7" y="952.9">Quốc</tspan></text></g>
<g id="n5_4_2_1"><rect class="p" x="1230.7" y="967.6" width="44.7" height="59.4" rx="4"/><path class="dv" d="M1230.7,988.8 H1275.4"/><text x="1253.05" y="981.5">5.4.2.1</text><text x="1253.05" y="1002.4">Hàn<tspan x="1253.05" y="1018.9">Quốc</tspan></text></g>
<g id="n5_4_2_2"><rect class="p" x="1228.5" y="1037" width="45.3" height="59" rx="4"/><path class="dv" d="M1228.5,1057.6 H1273.8"/><text x="1251.15" y="1050.4">5.4.2.2</text><text x="1251.15" y="1071.7">Hong<tspan x="1251.15" y="1088.1">Kong</tspan></text></g>
<g id="n5_5b"><rect class="p" x="1153" y="1123" width="53" height="73.6" rx="4"/><path class="dv" d="M1153,1143.1 H1206"/><text x="1179.5" y="1136.2">5.5</text><text x="1179.5" y="1165">Thanh<tspan x="1179.5" y="1181.5">Toán</tspan></text></g>
<g id="pay54_input"><polygon class="w" points="1157.4,1222.7 1210,1222.7 1196.5,1274.3 1143.2,1274.3"/><text x="1180.7" y="1236.7">Nhập</text><text x="1176.2" y="1253.2">Thông</text><text x="1171" y="1269.7">Tin</text></g>
<g id="pay54_method"><polygon class="w" points="1151.5,1290.8 1225.8,1290.8 1200,1388.3 1125.9,1388.3"/><text x="1184.5" y="1310.9">Lựa Chọn</text><text x="1180" y="1327.4">Phương</text><text x="1175.5" y="1343.5">Thức</text><text x="1171.3" y="1360">Thanh</text><text x="1166.8" y="1376">Toán</text></g>
<g id="pay54_auth"><rect class="w" x="1141" y="1404.7" width="61.5" height="38.9" rx="1"/><text x="1171.8" y="1419.9">Xác<tspan x="1171.8" y="1436.4">Thực</tspan></text></g>
<g id="pay54_check"><polygon class="d" points="1138.6,1496 1171.7,1469 1204.8,1496 1171.7,1523"/><text x="1171.7" y="1493.5">Kiểm<tspan x="1171.7" y="1510">tra</tspan></text></g>
<g id="pay54_ok"><ellipse class="o" cx="1060.3" cy="1495.5" rx="19.8" ry="17.5"/><text x="1060.3" y="1491">Thành<tspan x="1060.3" y="1507.6">Công</tspan></text></g>
<g id="n5_5"><rect class="p" x="1434.8" y="692.4" width="45.2" height="47.1" rx="4"/><path class="dv" d="M1434.8,712 H1480"/><text x="1457.4" y="705.2">5.5</text><text x="1457.4" y="729.2">Visa</text></g>
<g id="n5_5_0"><rect class="p" x="1362.9" y="766.8" width="45.3" height="55.9" rx="4"/><path class="dv" d="M1362.9,787 H1408.2"/><text x="1385.55" y="779.8">5.5.0</text><text x="1385.55" y="800.4">Châu<tspan x="1385.55" y="816.5">Á</tspan></text></g>
<g id="n5_5_1"><rect class="p" x="1434.8" y="766" width="45.2" height="56" rx="4"/><path class="dv" d="M1434.8,786.2 H1480"/><text x="1457.4" y="778.9">5.5.1</text><text x="1457.4" y="799.7">Châu<tspan x="1457.4" y="815.9">Âu</tspan></text></g>
<g id="n5_5_2"><rect class="p" x="1506.3" y="766.8" width="45.3" height="55.9" rx="4"/><path class="dv" d="M1506.3,787 H1551.6"/><text x="1528.95" y="779.8">5.5.2</text><text x="1528.95" y="800.4">Châu<tspan x="1528.95" y="816.5">Mỹ</tspan></text></g>
<g id="n5_5_0_0"><rect class="p" x="1362.9" y="829.7" width="45.9" height="55.9" rx="4"/><path class="dv" d="M1362.9,849.5 H1408.8"/><text x="1385.85" y="842.7">5.5.0.0</text><text x="1385.85" y="863.7">Trung<tspan x="1385.85" y="880.1">Quốc</tspan></text></g>
<g id="n5_5_0_1"><rect class="p" x="1367.1" y="897.8" width="45.3" height="56.7" rx="4"/><path class="dv" d="M1367.1,918.5 H1412.4"/><text x="1389.75" y="911.6">5.5.0.1</text><text x="1389.75" y="931.9">Hàn<tspan x="1389.75" y="948.4">Quốc</tspan></text></g>
<g id="n5_5_1_0"><rect class="p" x="1435" y="831.4" width="46" height="55.9" rx="4"/><path class="dv" d="M1435,851.7 H1481"/><text x="1458" y="844.5">5.5.1.0</text><text x="1458" y="872.4">Anh</text></g>
<g id="n5_5_1_1"><rect class="p" x="1430.9" y="902.4" width="57.6" height="53.9" rx="4"/><path class="dv" d="M1430.9,923 H1488.5"/><text x="1459.7" y="915.8">5.5.1.1</text><text x="1459.7" y="942.4">Scotland</text></g>
<g id="n5_5_1_2"><rect class="p" x="1435.8" y="967.8" width="45.2" height="75.1" rx="4"/><path class="dv" d="M1435.8,988.8 H1481"/><text x="1458.4" y="980.5">5.5.1.2</text><text x="1458.4" y="1000.7">Thổ<tspan x="1458.4" y="1017.5">Nhĩ</tspan><tspan x="1458.4" y="1033.9">Kỳ</tspan></text></g>
<g id="n5_5_2_0"><rect class="p" x="1507.6" y="831.4" width="46.4" height="55.9" rx="4"/><path class="dv" d="M1507.6,851.7 H1554"/><text x="1530.8" y="844.5">5.5.2.0</text><text x="1530.8" y="872.4">Mỹ</text></g>
<g id="n5_5_2_1"><rect class="p" x="1509.6" y="897.8" width="46" height="56.7" rx="4"/><path class="dv" d="M1509.6,918.7 H1555.6"/><text x="1532.6" y="911.6">5.5.2.1</text><text x="1532.6" y="938.8">Úc</text></g>
<g id="n5_5_2_2"><rect class="p" x="1509.6" y="969.5" width="46" height="75.2" rx="4"/><path class="dv" d="M1509.6,989.8 H1555.6"/><text x="1532.6" y="982.6">5.5.2.2</text><text x="1532.6" y="1011.9">Nam<tspan x="1532.6" y="1028">Phi</tspan></text></g>
<g id="n5_5_2_3"><rect class="p" x="1509.6" y="1060.4" width="46" height="62.2" rx="4"/><path class="dv" d="M1509.6,1080.7 H1555.6"/><text x="1532.6" y="1073.4">5.5.2.3</text><text x="1532.6" y="1096.1">Ai<tspan x="1532.6" y="1112.6">Cập</tspan></text></g>
<g id="contact2"><rect class="w" x="1440.6" y="1162.4" width="36.3" height="37.6" rx="1"/><text x="1458.8" y="1177.2">Liên<tspan x="1458.8" y="1193.6">Hệ</tspan></text></g>
</g>
</svg>
